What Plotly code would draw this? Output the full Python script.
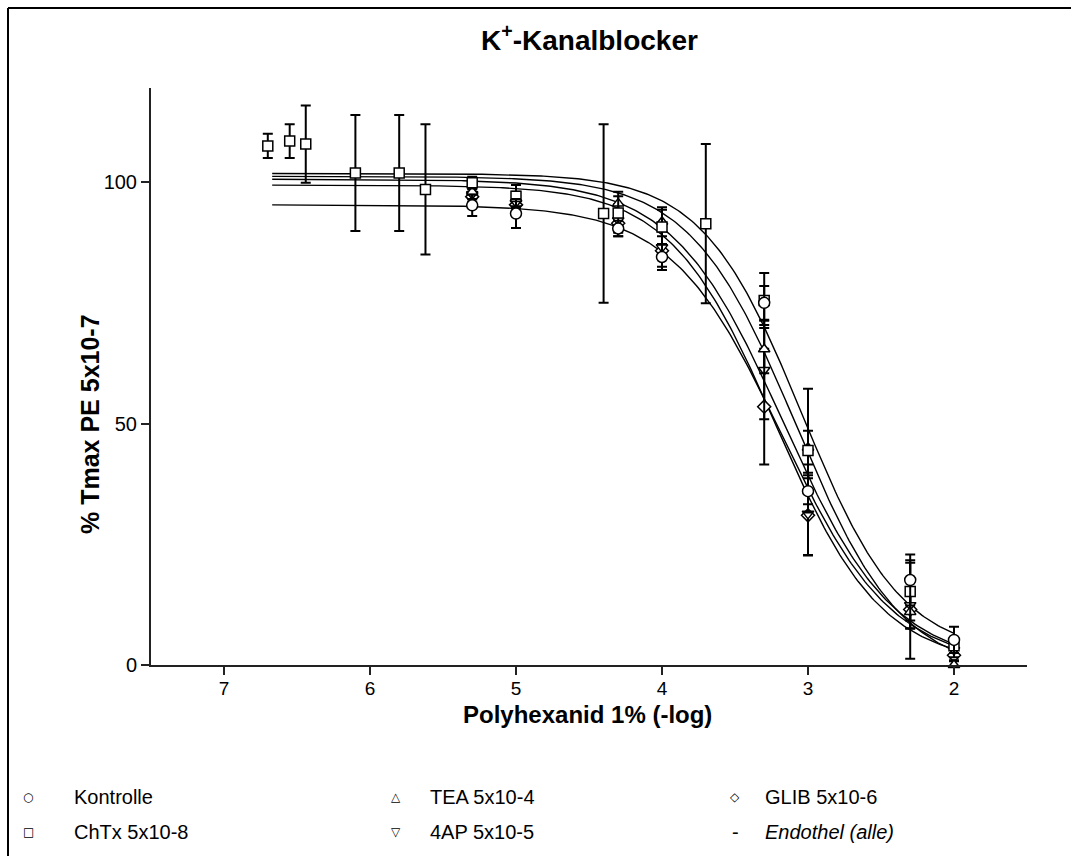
import numpy as np
import plotly.graph_objects as go

# ---------------- data ----------------
x_common = [5.3, 5.0, 4.3, 4.0, 3.3, 3.0, 2.3, 2.0]

kontrolle_y = [95.2, 93.5, 90.4, 84.5, 75.0, 36.0, 17.6, 5.2]
kontrolle_e = [2.2, 3.0, 1.6, 2.7, 3.5, 2.7, 5.3, 2.7]

chtx_x = [6.70, 6.55, 6.44, 6.10, 5.80, 5.62, 5.30, 5.00, 4.40, 4.30, 4.00, 3.70, 3.30, 3.00, 2.30, 2.00]
chtx_y = [107.5, 108.5, 107.9, 101.9, 101.9, 98.5, 99.9, 97.1, 93.5, 93.6, 90.7, 91.4, 75.5, 44.4, 15.2, 4.0]
chtx_e = [2.5, 3.5, 8.0, 12.0, 12.0, 13.5, 1.2, 2.3, 18.5, 3.5, 3.6, 16.5, 5.7, 12.8, 6.0, 1.5]

tea_y = [98.0, 96.5, 95.6, 91.8, 65.4, 45.0, 11.0, 0.0]
tea_e = [1.5, 1.5, 2.4, 3.0, 5.0, 3.5, 3.5, 1.0]

ap4_y = [97.5, 95.8, 92.1, 86.5, 61.1, 31.3, 12.4, 3.1]
ap4_e = [1.5, 1.2, 3.3, 4.0, 10.2, 8.5, 4.8, 1.5]

glib_y = [97.0, 95.3, 91.5, 85.8, 53.5, 31.0, 11.5, 2.0]
glib_e = [1.5, 1.2, 2.0, 4.0, 12.0, 8.3, 10.2, 1.2]

# fitted sigmoidal curves: [top, bottom, pEC50, hill]
fit_kontrolle = [95.3, 0.0, 3.18, 1.15]
fit_chtx = [101.8, 2.0, 3.04, 1.27]
fit_tea = [101.2, -2.0, 3.08, 1.2]
fit_4ap = [100.6, 0.0, 3.17, 1.15]
fit_glib = [99.4, 0.0, 3.22, 1.2]
fit_range = [6.67, 2.0]

x_ticks = [7, 6, 5, 4, 3, 2]
y_ticks = [0, 50, 100]

legend_names = ["Kontrolle", "ChTx 5x10-8", "TEA 5x10-4", "4AP 5x10-5", "GLIB 5x10-6", "Endothel (alle)"]
legend_glyphs = ["○", "□", "△", "▽", "◇", "-"]

# ---------------- figure ----------------
FONT = "Liberation Sans, Arial, sans-serif"
W, H = 1071, 856
L, R, T, B = 151, 1027, 88, 665
pw, ph = R - L, B - T

def px_x(p):
    return (p - L) / pw

def px_y(p):
    return (B - p) / ph

fig = go.Figure()

xc = np.linspace(fit_range[0], fit_range[1], 300)
for prm in [fit_kontrolle, fit_chtx, fit_tea, fit_4ap, fit_glib]:
    top, bot, pec, h = prm
    yc = bot + (top - bot) / (1 + 10 ** ((pec - xc) * h))
    fig.add_trace(go.Scatter(x=xc, y=yc, mode="lines",
                             line=dict(color="black", width=1.4),
                             showlegend=False, hoverinfo="skip", cliponaxis=False))

def add_pts(xs, ys, es, symbol, size):
    fig.add_trace(go.Scatter(
        x=xs, y=ys, mode="markers", cliponaxis=False, showlegend=False,
        marker=dict(symbol=symbol, size=size, color="white",
                    line=dict(color="black", width=1.5)),
        error_y=dict(type="data", array=es, visible=True,
                     color="black", thickness=2, width=5)))

add_pts(x_common, glib_y, glib_e, "diamond", 10)
add_pts(x_common, ap4_y, ap4_e, "triangle-down", 10)
add_pts(x_common, tea_y, tea_e, "triangle-up", 10)
add_pts(chtx_x, chtx_y, chtx_e, "square", 10)
add_pts(x_common, kontrolle_y, kontrolle_e, "circle", 11)

annotations = []
annotations.append(dict(text="<b>K<sup>+</sup>-Kanalblocker</b>", x=0.5, y=px_y(38),
                        xref="paper", yref="paper", showarrow=False,
                        font=dict(family=FONT, size=28, color="black"),
                        xanchor="center", yanchor="middle"))
annotations.append(dict(text="<b>Polyhexanid 1% (-log)</b>", x=px_x(587), y=px_y(714),
                        xref="paper", yref="paper", showarrow=False,
                        font=dict(family=FONT, size=24, color="black"),
                        xanchor="center", yanchor="middle"))
annotations.append(dict(text="<b>% Tmax PE 5x10-7</b>", x=px_x(90), y=px_y(424),
                        xref="paper", yref="paper", showarrow=False, textangle=-90,
                        font=dict(family=FONT, size=25, color="black"),
                        xanchor="center", yanchor="middle"))

sym_x = [28, 28, 396, 396, 735, 735]
txt_x = [72, 72, 428, 428, 763, 763]
row_y = [797, 832, 797, 832, 797, 832]
for i, name in enumerate(legend_names):
    txt = f"<i>{name}</i>" if name.startswith("Endothel") else name
    glyph_font = dict(family=FONT, size=20, color="black") if legend_glyphs[i] == "-" \
        else dict(family="DejaVu Sans", size=12, color="black")
    annotations.append(dict(text=legend_glyphs[i], x=px_x(sym_x[i]), y=px_y(row_y[i]),
                            xref="paper", yref="paper", showarrow=False,
                            font=glyph_font, xanchor="center", yanchor="middle"))
    annotations.append(dict(text=txt, x=px_x(txt_x[i]), y=px_y(row_y[i]),
                            xref="paper", yref="paper", showarrow=False,
                            font=dict(family=FONT, size=20, color="black"),
                            xanchor="left", yanchor="middle"))

shapes = [
    dict(type="line", xref="paper", yref="paper", x0=px_x(8), x1=px_x(1100),
         y0=px_y(8), y1=px_y(8), line=dict(color="black", width=2)),
    dict(type="line", xref="paper", yref="paper", x0=px_x(8), x1=px_x(8),
         y0=px_y(8), y1=px_y(900), line=dict(color="black", width=2)),
]

fig.update_layout(
    width=W, height=H,
    margin=dict(l=L, r=W - R, t=T, b=H - B, pad=0),
    paper_bgcolor="white", plot_bgcolor="white",
    annotations=annotations, shapes=shapes,
    font=dict(family=FONT, color="black"),
    xaxis=dict(range=[7.5, 1.5], tickvals=x_ticks, ticktext=[str(v) for v in x_ticks],
               showline=True, linecolor="#222", linewidth=2, ticks="outside",
               ticklen=8, tickwidth=2, tickcolor="#222", showgrid=False, zeroline=False,
               ticklabelstandoff=-3,
               tickfont=dict(family=FONT, size=19, color="black")),
    yaxis=dict(range=[0, 119.5], tickvals=y_ticks, ticktext=[str(v) for v in y_ticks],
               showline=True, linecolor="#222", linewidth=2, ticks="outside",
               ticklen=8, tickwidth=2, tickcolor="#222", showgrid=False, zeroline=False,
               tickfont=dict(family=FONT, size=20, color="black")),
)

fig.write_html("out.html")
